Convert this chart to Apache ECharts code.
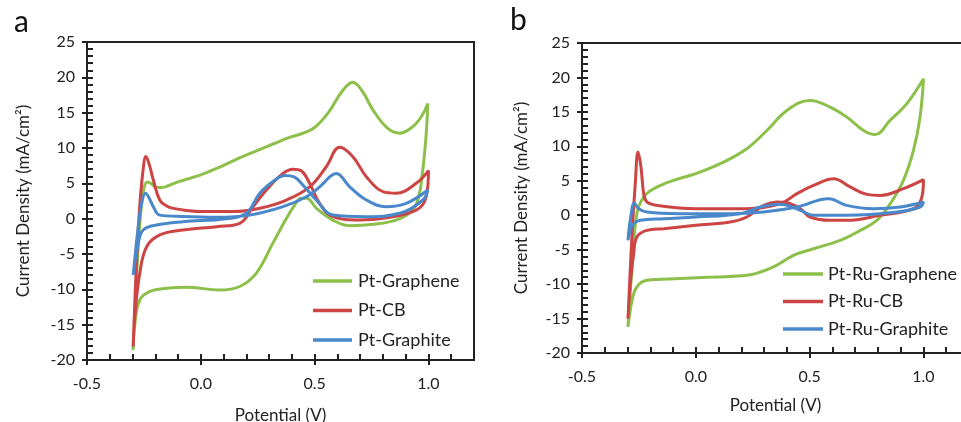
<!DOCTYPE html>
<html>
<head>
<meta charset="utf-8">
<script src="https://cdn.jsdelivr.net/npm/echarts@6/dist/echarts.min.js"></script>
<style>html,body{margin:0;padding:0;background:#fff;}#c{width:961px;height:422px;}</style>
</head>
<body>
<div id="c"></div>
<script>
// ---- Data (Potential V, Current density mA/cm2) ----
var xTickLabels = ['-0.5', '0.0', '0.5', '1.0'];
var yTickLabels = ['-20', '-15', '-10', '-5', '0', '5', '10', '15', '20', '25'];
var namesA = ['Pt-Graphene', 'Pt-CB', 'Pt-Graphite'];
var namesB = ['Pt-Ru-Graphene', 'Pt-Ru-CB', 'Pt-Ru-Graphite'];

// Panel a: Pt-Graphene
var aGrapheneV = [-0.298, -0.288, -0.275, -0.262, -0.25, -0.235, -0.22, -0.2, -0.175, -0.14, -0.1, 0.0, 0.083, 0.17, 0.244, 0.32, 0.39, 0.45, 0.5, 0.56, 0.62, 0.668, 0.71, 0.756, 0.82, 0.873, 0.93, 0.97, 0.997,
                  0.99, 0.975, 0.953, 0.917, 0.858, 0.77, 0.654, 0.58, 0.507, 0.465, 0.44, 0.41, 0.37, 0.316, 0.244, 0.171, 0.083, -0.063, -0.15, -0.224, -0.268, -0.29, -0.298];
var aGrapheneJ = [-18.6, -12, -4, 1.5, 4.3, 5.2, 5.0, 4.5, 4.4, 4.7, 5.2, 6.2, 7.3, 8.6, 9.6, 10.6, 11.5, 12.1, 12.9, 15.0, 18.0, 19.3, 18.0, 15.4, 12.8, 12.1, 13.0, 14.5, 16.3,
                  12.0, 6.9, 2.6, 0.8, -0.2, -0.75, -1.0, -0.2, 1.5, 2.9, 2.9, 1.8, -0.3, -3.5, -7.7, -9.6, -10.1, -9.7, -9.85, -10.3, -11.5, -15.0, -18.6];
// Panel a: Pt-CB
var aCbV = [-0.297, -0.285, -0.27, -0.255, -0.241, -0.225, -0.209, -0.18, -0.15, -0.121, -0.06, 0.0, 0.142, 0.259, 0.376, 0.478, 0.551, 0.61, 0.668, 0.727, 0.8, 0.858, 0.946, 1.0,
            0.99, 0.946, 0.8, 0.697, 0.58, 0.522, 0.478, 0.44, 0.405, 0.361, 0.288, 0.23, 0.171, 0.069, -0.078, -0.18, -0.238, -0.268, -0.29, -0.297];
var aCbJ = [-18.1, -8, 1, 6.5, 8.8, 7.5, 5.5, 2.6, 1.8, 1.46, 1.15, 1.0, 1.0, 1.47, 2.64, 4.5, 7.35, 10.1, 8.77, 5.94, 3.82, 3.6, 5.0, 6.8,
            3.1, 1.2, 0.05, -0.19, 0.28, 2.17, 5.0, 6.8, 7.0, 6.4, 4.06, 1.7, -0.66, -1.13, -1.6, -2.3, -3.97, -7.7, -13.9, -18.1];
// Panel a: Pt-Graphite
var aGraphiteV = [-0.297, -0.275, -0.258, -0.243, -0.225, -0.209, -0.18, -0.078, 0.069, 0.215, 0.361, 0.464, 0.522, 0.595, 0.654, 0.727, 0.814, 0.902, 0.997,
                  0.975, 0.873, 0.727, 0.58, 0.507, 0.45, 0.41, 0.37, 0.332, 0.259, 0.2, 0.113, -0.078, -0.195, -0.253, -0.275, -0.297];
var aGraphiteJ = [-7.97, -1.13, 2.5, 3.6, 2.8, 1.7, 0.5, 0.3, 0.2, 0.5, 1.7, 3.1, 4.5, 6.4, 4.5, 2.64, 1.7, 2.17, 4.06,
                  2.64, 0.76, 0.28, 0.52, 2.64, 4.7, 5.9, 6.1, 5.6, 3.59, 0.76, 0.0, -0.43, -0.9, -1.6, -3.5, -7.97];

// Panel b: Pt-Ru-Graphene
var bGrapheneV = [-0.298, -0.28, -0.259, -0.229, -0.185, -0.098, 0.0, 0.107, 0.224, 0.312, 0.4, 0.502, 0.59, 0.663, 0.737, 0.788, 0.854, 0.927, 1.0,
                  0.985, 0.956, 0.912, 0.854, 0.795, 0.722, 0.634, 0.517, 0.429, 0.341, 0.224, 0.078, -0.068, -0.215, -0.259, -0.28, -0.298];
var bGrapheneJ = [-16.2, -7.5, 0.2, 2.64, 3.85, 5.06, 6.03, 7.48, 9.66, 12.3, 15.2, 16.67, 15.7, 14.25, 12.3, 11.7, 13.8, 16.2, 19.8,
                  14.25, 9.4, 5.06, 1.67, -0.74, -2.2, -3.65, -4.86, -5.83, -7.5, -8.73, -8.97, -9.2, -9.45, -10.4, -12.35, -16.2];
// Panel b: Pt-Ru-CB
var bCbV = [-0.298, -0.28, -0.266, -0.254, -0.241, -0.229, -0.215, -0.171, 0.0, 0.224, 0.371, 0.444, 0.517, 0.605, 0.678, 0.751, 0.81, 0.912, 1.0,
            0.993, 0.956, 0.81, 0.663, 0.59, 0.502, 0.459, 0.4, 0.356, 0.298, 0.224, 0.151, 0.0, -0.141, -0.215, -0.259, -0.273, -0.288, -0.298];
var bCbJ = [-15.0, -2.68, 4.58, 9.17, 7.0, 3.13, 1.92, 1.43, 0.95, 0.95, 1.67, 3.13, 4.33, 5.3, 4.1, 3.03, 2.88, 3.85, 5.16,
            2.64, 0.95, -0.02, -0.74, -0.74, -0.26, 0.95, 1.82, 1.92, 1.43, -0.26, -0.99, -1.47, -1.95, -2.2, -3.16, -5.58, -9.94, -15.0];
// Panel b: Pt-Ru-Graphite
var bGraphiteV = [-0.298, -0.288, -0.27, -0.251, -0.215, -0.068, 0.151, 0.298, 0.444, 0.583, 0.663, 0.78, 0.898, 1.0,
                  0.985, 0.883, 0.663, 0.517, 0.459, 0.371, 0.283, 0.195, 0.0, -0.141, -0.244, -0.273, -0.288, -0.298];
var bGraphiteJ = [-3.65, -0.74, 1.77, 0.95, 0.46, 0.22, 0.22, 0.46, 1.19, 2.4, 1.43, 0.95, 1.19, 1.92,
                  1.19, 0.46, -0.02, -0.02, 0.7, 1.58, 1.19, 0.22, -0.26, -0.5, -0.74, -1.23, -2.2, -3.65];

var colors = ['#8cc04a', '#cc4444', '#4a88cc'];

function pairs(v, j) { return v.map(function (x, i) { return [x, j[i]]; }); }

var font = 'Lato, "Open Sans", sans-serif';
var txt = '#222';

function axesFor(gi, nameGapX, nameGapY, xMargin) {
  var xs = [
    { gridIndex: gi, type: 'value', min: -0.5, max: 1.2, interval: 0.1,
      axisLine: { show: true, onZero: false, lineStyle: { color: txt, width: 2 } },
      axisTick: { show: true, inside: true, length: 6, lineStyle: { color: txt, width: 2 } },
      axisLabel: { show: false }, splitLine: { show: false } },
    { gridIndex: gi, type: 'value', min: -0.5, max: 1.2, interval: 0.5, position: 'bottom',
      name: 'Potential (V)', nameLocation: 'middle', nameGap: nameGapX,
      nameTextStyle: { color: txt, fontSize: 17, fontFamily: font },
      axisLine: { show: false, onZero: false },
      axisTick: { show: true, inside: false, length: 5, lineStyle: { color: txt, width: 2 } },
      axisLabel: { show: true, color: txt, fontSize: 16, fontFamily: font, margin: xMargin, showMaxLabel: false,
        formatter: function (v) { var k = Math.round((v + 0.5) / 0.5); return xTickLabels[k] || ''; } },
      splitLine: { show: false } }
  ];
  var ys = [
    { gridIndex: gi, type: 'value', min: -20, max: 25, interval: 1,
      axisLine: { show: true, onZero: false, lineStyle: { color: txt, width: 2 } },
      axisTick: { show: true, inside: true, length: 6, lineStyle: { color: txt, width: 2 } },
      axisLabel: { show: false }, splitLine: { show: false } },
    { gridIndex: gi, type: 'value', min: -20, max: 25, interval: 5, position: 'left',
      name: 'Current Density (mA/cm²)', nameLocation: 'middle', nameGap: nameGapY,
      nameTextStyle: { color: txt, fontSize: 17, fontFamily: font },
      axisLine: { show: false, onZero: false },
      axisTick: { show: true, inside: false, length: 5, lineStyle: { color: txt, width: 2 } },
      axisLabel: { show: true, color: txt, fontSize: 16, fontFamily: font, margin: 12,
        formatter: function (v) { var k = Math.round((v + 20) / 5); return yTickLabels[k] || ''; } },
      splitLine: { show: false } }
  ];
  return { xs: xs, ys: ys };
}

var A = axesFor(0, 47, 55, 16);
var B = axesFor(1, 44, 52, 16);

function ser(name, v, j, c, xi, yi) {
  return { name: name, type: 'line', xAxisIndex: xi, yAxisIndex: yi, data: pairs(v, j),
    smooth: 0.4, showSymbol: false, symbol: 'none', clip: true,
    lineStyle: { color: c, width: 3 }, itemStyle: { color: c } };
}

var option = {
  animation: false,
  backgroundColor: '#fff',
  title: [
    { text: 'a', left: 9, top: 2, textStyle: { fontSize: 30, fontWeight: 'normal', color: '#111', fontFamily: font } },
    { text: 'b', left: 505, top: 0, textStyle: { fontSize: 30, fontWeight: 'normal', color: '#111', fontFamily: font } }
  ],
  grid: [
    { left: 87, top: 42, width: 387, height: 318, show: true, borderColor: txt, borderWidth: 2, backgroundColor: 'transparent',
      containLabel: false, outerBoundsMode: 'none' },
    { left: 582, top: 43, width: 387, height: 310, show: true, borderColor: txt, borderWidth: 2, backgroundColor: 'transparent',
      containLabel: false, outerBoundsMode: 'none' }
  ],
  xAxis: A.xs.concat(B.xs.map(function (a) { a.gridIndex = 1; return a; })),
  yAxis: A.ys.concat(B.ys.map(function (a) { a.gridIndex = 1; return a; })),
  legend: [
    { data: namesA, orient: 'vertical', left: 308, top: 265, icon: 'rect', itemWidth: 39, itemHeight: 3.5, itemGap: 7.5,
      textStyle: { color: txt, fontSize: 18, fontFamily: font, lineHeight: 22, padding: [0, 0, 0, 1] } },
    { data: namesB, orient: 'vertical', left: 778, top: 258, icon: 'rect', itemWidth: 40, itemHeight: 3.5, itemGap: 5.5,
      textStyle: { color: txt, fontSize: 18, fontFamily: font, lineHeight: 22, padding: [0, 0, 0, 0] } }
  ],
  series: [
    ser(namesA[0], aGrapheneV, aGrapheneJ, colors[0], 0, 0),
    ser(namesA[1], aCbV, aCbJ, colors[1], 0, 0),
    ser(namesA[2], aGraphiteV, aGraphiteJ, colors[2], 0, 0),
    ser(namesB[0], bGrapheneV, bGrapheneJ, colors[0], 2, 2),
    ser(namesB[1], bCbV, bCbJ, colors[1], 2, 2),
    ser(namesB[2], bGraphiteV, bGraphiteJ, colors[2], 2, 2)
  ]
};

var chart = echarts.init(document.getElementById('c'), null, { renderer: 'canvas' });
chart.setOption(option);
</script>
</body>
</html>
